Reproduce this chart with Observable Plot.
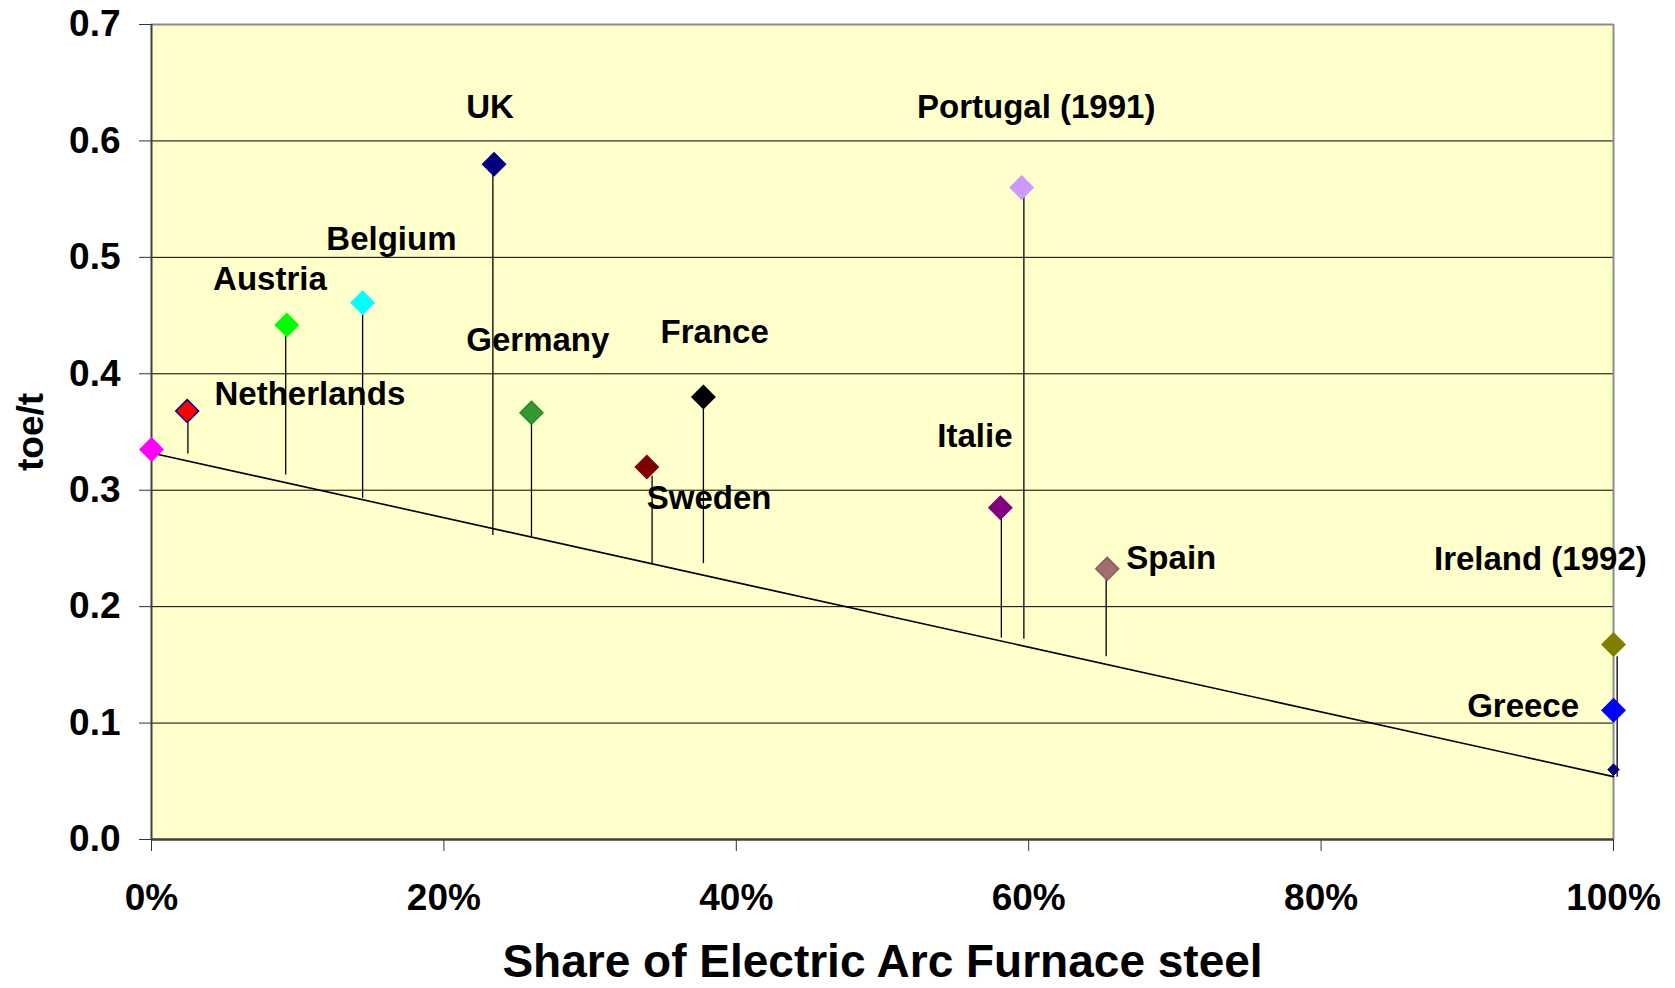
<!DOCTYPE html>
<html>
<head>
<meta charset="utf-8">
<script src="https://cdn.jsdelivr.net/npm/d3@7"></script>
<script src="https://cdn.jsdelivr.net/npm/@observablehq/plot@0.6"></script>
<style>
  html, body { margin: 0; padding: 0; background: #ffffff; }
  #chart svg { display: block; }
</style>
</head>
<body>
<div id="chart"></div>
<script>
// ---- data ----
const countries = ["", "Netherlands", "Austria", "Belgium", "UK", "Germany", "Sweden", "France", "Italie", "Portugal (1991)", "Spain", "Ireland (1992)", "Greece", ""];
const eafShare  = [0, 0.0244, 0.0925, 0.1444, 0.2343, 0.2599, 0.3388, 0.3775, 0.5806, 0.5952, 0.6537, 1.0, 1.0, 1.0];
const toePerT   = [0.335, 0.368, 0.442, 0.461, 0.580, 0.3665, 0.320, 0.380, 0.285, 0.560, 0.2325, 0.1675, 0.111, 0.060];
const fillColors   = ["#FF00FF", "#FF0000", "#00FF00", "#00FFFF", "#000080", "#339933", "#800000", "#000000", "#800080", "#CC99FF", "#A07070", "#808000", "#0000FF", "#000080"];
const strokeColors = ["#FF00FF", "#000080", "#00FF00", "#00FFFF", "#000080", "#228B22", "#800000", "#000000", "#800080", "#CC99FF", "#8A5A5A", "#808000", "#0000FF", "#000080"];
const markerKind   = ["big", "big", "big", "big", "big", "big", "big", "big", "big", "big", "big", "big", "big", "small"];

// vertical residual lines (from point down to trend line)
const stemNames  = ["Netherlands", "Austria", "Belgium", "UK", "Germany", "Sweden", "France", "Italie", "Portugal (1991)", "Spain", "Ireland (1992)"];
const stemX      = [0.0249, 0.0918, 0.1444, 0.2335, 0.2599, 0.3424, 0.3775, 0.5813, 0.5967, 0.6530, 1.0025];
const stemTop    = [0.368, 0.442, 0.461, 0.580, 0.3665, 0.312, 0.380, 0.285, 0.560, 0.2325, 0.157];
const stemBottom = [0.331, 0.313, 0.293, 0.261, 0.260, 0.237, 0.237, 0.173, 0.172, 0.157, 0.0535];

// trend line
const trendX = [0, 1];
const trendY = [0.332, 0.054];

// label anchors (data units)
const labelNames = ["UK", "Portugal (1991)", "Belgium", "Austria", "Germany", "France", "Netherlands", "Italie", "Sweden", "Spain", "Ireland (1992)", "Greece"];
const labelX     = [0.2153, 0.5236, 0.1196, 0.0421, 0.2153, 0.3482, 0.0431, 0.5375, 0.3388, 0.6668, 0.8772, 0.8999];
const labelY     = [0.6289, 0.6289, 0.5151, 0.4811, 0.4289, 0.4353, 0.3820, 0.3463, 0.2931, 0.2417, 0.2408, 0.1142];

// ticks
const xTicks = [0, 0.2, 0.4, 0.6, 0.8, 1.0];
const yTicks = [0, 0.1, 0.2, 0.3, 0.4, 0.5, 0.6, 0.7];
const gridY  = [0.1, 0.2, 0.3, 0.4, 0.5, 0.6];

const xTitle = "Share of Electric Arc Furnace steel";
const yTitle = "toe/t";

// ---- tables built from the arrays ----
const points = countries.map((c, i) => ({name: c, x: eafShare[i], y: toePerT[i], fill: fillColors[i], stroke: strokeColors[i], kind: markerKind[i]}));
const stems = stemNames.map((n, i) => ({name: n, x: stemX[i], y1: stemTop[i], y2: stemBottom[i]}));
const trend = trendX.map((x, i) => ({x, y: trendY[i]}));
const labels = labelNames.map((n, i) => ({name: n, x: labelX[i], y: labelY[i]}));

const FONT = "'Liberation Sans', Arial, Helvetica, sans-serif";

const chart = Plot.plot({
  width: 1675,
  height: 988,
  marginLeft: 151,
  marginRight: 62,
  marginTop: 24,
  marginBottom: 149,
  style: {fontFamily: FONT, fontWeight: "bold", background: "#ffffff", color: "#000", overflow: "visible"},
  x: {domain: [0, 1]},
  y: {domain: [0, 0.7]},
  color: {type: "identity"},
  marks: [
    Plot.frame({fill: "#FFFFCC", stroke: null}),
    Plot.ruleY(gridY, {stroke: "#000", strokeWidth: 1}),
    Plot.ruleY([0.7], {stroke: "#8c8c8c", strokeWidth: 2}),
    Plot.ruleX([1], {stroke: "#8c8c8c", strokeWidth: 2}),
    Plot.axisY({ticks: yTicks, tickFormat: d3.format(".1f"), tickSize: 12, tickPadding: 19, fontSize: 37, stroke: "#333", label: null}),
    Plot.axisX({ticks: xTicks, tickFormat: d => Math.round(d * 100) + "%", tickSize: 12, tickPadding: 32, fontSize: 37, stroke: "#333", label: null}),
    Plot.ruleX([0], {stroke: "#404040", strokeWidth: 2}),
    Plot.ruleY([0], {stroke: "#404040", strokeWidth: 2.5}),
    Plot.ruleX(stems, {x: "x", y1: "y1", y2: "y2", stroke: "#000", strokeWidth: 1.3}),
    Plot.line(trend, {x: "x", y: "y", stroke: "#000", strokeWidth: 1.6}),
    Plot.dot(points.filter(d => d.kind === "big"), {x: "x", y: "y", symbol: "diamond2", r: 10.3, fill: "fill", stroke: "stroke", strokeWidth: 1.5}),
    Plot.dot(points.filter(d => d.kind === "small"), {x: "x", y: "y", symbol: "diamond2", r: 5.2, fill: "fill", stroke: "stroke", strokeWidth: 1}),
    Plot.text(labels, {x: "x", y: "y", text: "name", textAnchor: "start", fontSize: 33, fill: "#000"}),
    Plot.text([xTitle], {frameAnchor: "bottom", dy: 123, lineAnchor: "middle", textAnchor: "middle", fontSize: 46, fill: "#000"}),
    Plot.text([yTitle], {frameAnchor: "left", dx: -120.5, rotate: -90, textAnchor: "middle", lineAnchor: "middle", fontSize: 37, fill: "#000"})
  ]
});

document.getElementById("chart").appendChild(chart);
</script>
</body>
</html>
